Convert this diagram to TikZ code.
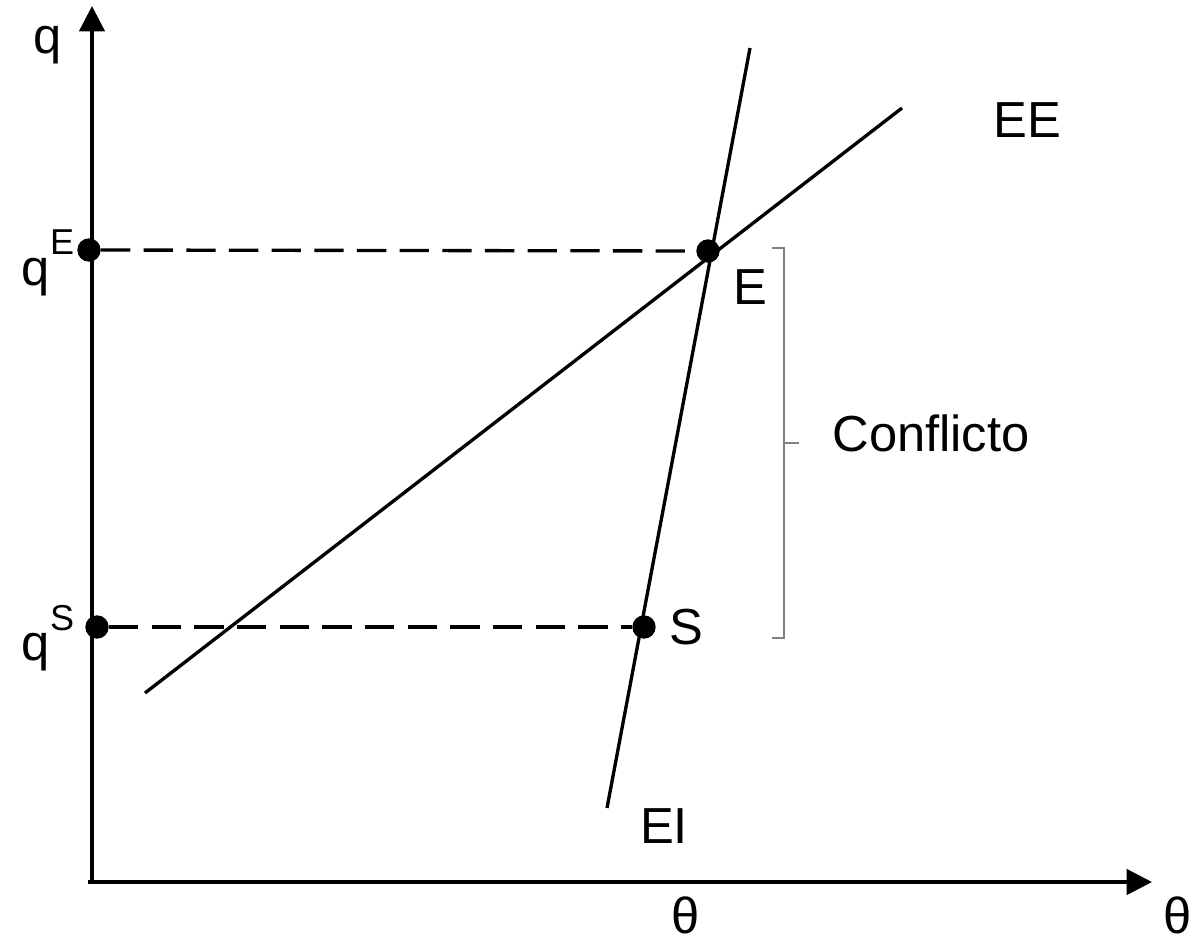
\documentclass[tikz,border=0pt]{standalone}
\usepackage{fontspec}
\setmainfont{Liberation Sans}
\usetikzlibrary{arrows.meta}
\begin{document}
\begin{tikzpicture}[x=0.75pt,y=-0.75pt,
  axisline/.style={line width=2.5pt,-{Triangle[length=19pt,width=19pt]}},
  curve/.style={line width=2.5pt},
  guide/.style={line width=2.5pt,dash pattern=on 22pt off 10pt},
  dotnode/.style={circle,fill=black,inner sep=0pt,minimum size=17.5pt},
  lbl/.style={font=\fontsize{38}{40}\selectfont,inner sep=0pt},
  bracket/.style={line width=1.6pt,draw=gray}]
\useasboundingbox (0,0) rectangle (1195,942);
% axes
\coordinate (o) at (92,882);
\coordinate (ytip) at (92,6);
\coordinate (xtip) at (1152,882);
\draw[axisline] (92,884) -- (ytip);
\draw[axisline] (88,882) -- (xtip);
% curves
\coordinate (ee1) at (145,693);
\coordinate (ee2) at (902,108);
\coordinate (ei1) at (607,808);
\coordinate (ei2) at (750,48);
\draw[curve] (ee1) -- (ee2);
\draw[curve] (ei1) -- (ei2);
% dots
\node[dotnode] (qe) at (89,250) {};
\node[dotnode] (e) at (708,251) {};
\node[dotnode] (qs) at (97,627) {};
\node[dotnode] (s) at (644,627) {};
\draw[guide] (qe) -- (e);
\draw[guide] (qs) -- (s);
% labels
\node[lbl] (lq) at (48,45) {q};
\node[lbl] (lqe) at (48,263) {q\raisebox{0.6em}{\fontsize{27}{28}\selectfont E}};
\node[lbl] (lqs) at (48,638) {q\raisebox{0.6em}{\fontsize{27}{28}\selectfont S}};
\node[lbl] (lee) at (1027,120) {EE};
\node[lbl] (le) at (750,287) {E};
\node[lbl] (ls) at (686,627) {S};
\node[lbl] (lei) at (664,826) {EI};
\node[lbl] (lth1) at (686,915) {θ};
\node[lbl] (lth2) at (1178,915) {θ};
\node[lbl] (lconf) at (931,433) {Conflicto};
% bracket
\coordinate (b1) at (772,248);
\coordinate (b2) at (784,248);
\coordinate (b3) at (784,443);
\coordinate (b4) at (799,443);
\coordinate (b5) at (784,638);
\coordinate (b6) at (772,638);
\draw[bracket] (b1) -- (b2) -- (b5) -- (b6);
\draw[bracket] (b3) -- (b4);
\end{tikzpicture}
\end{document}
